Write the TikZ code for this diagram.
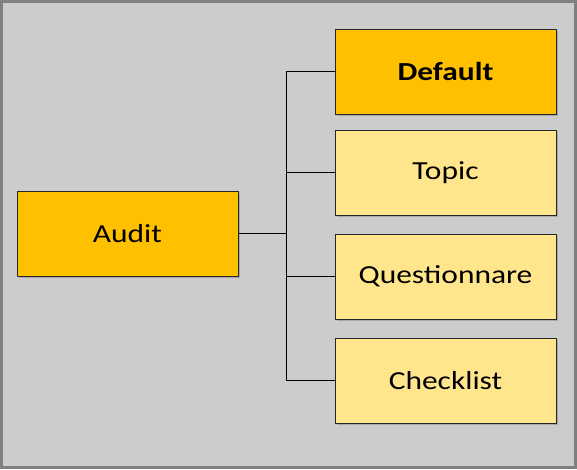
\documentclass[tikz,border=0pt]{standalone}
\usepackage{fontspec}
\usepackage{graphicx}
\setmainfont{Carlito}
\usetikzlibrary{shadows}
\definecolor{bgc}{HTML}{CCCCCC}
\definecolor{frc}{HTML}{7F7F7F}
\definecolor{darky}{HTML}{FFC000}
\definecolor{lighty}{HTML}{FFE68C}
\newcommand{\wtxt}[1]{\scalebox{1.21}[1]{#1}}
\tikzset{
  box/.style={draw=black!85, line width=1pt, minimum width=221pt, minimum height=85pt,
    font=\fontsize{26}{30}\selectfont, inner sep=0pt,
    drop shadow={shadow xshift=1.5pt, shadow yshift=-1.5pt, opacity=0.35, fill=black!60}},
  darkbox/.style={box, fill=darky},
  lightbox/.style={box, fill=lighty},
  conn/.style={draw=black, line width=1.2pt}
}
\begin{document}
\begin{tikzpicture}[x=1pt,y=-1pt]
\useasboundingbox (0,0) rectangle (577,469);
\draw[fill=bgc, draw=frc, line width=2.5pt] (1.5,1.5) rectangle (575.5,467.5);
\node[darkbox] (audit) at (127.5,233.5) {\wtxt{Audit}};
\node[darkbox, font=\fontsize{26}{30}\selectfont\bfseries] (default) at (445.5,71.5) {\wtxt{Default}};
\node[lightbox] (topic) at (445.5,172.5) {\wtxt{Topic}};
\node[lightbox] (quest) at (445.5,276.5) {\wtxt{Questionnare}};
\node[lightbox] (check) at (445.5,380.5) {\wtxt{Checklist}};
\coordinate (bus) at (286.5,233.5);
\draw[conn] (audit.east) -- (bus);
\draw[conn] (default.west) -| (bus);
\draw[conn] (check.west) -| (bus);
\draw[conn] (topic.west) -- (topic.west -| bus);
\draw[conn] (quest.west) -- (quest.west -| bus);
\end{tikzpicture}
\end{document}
